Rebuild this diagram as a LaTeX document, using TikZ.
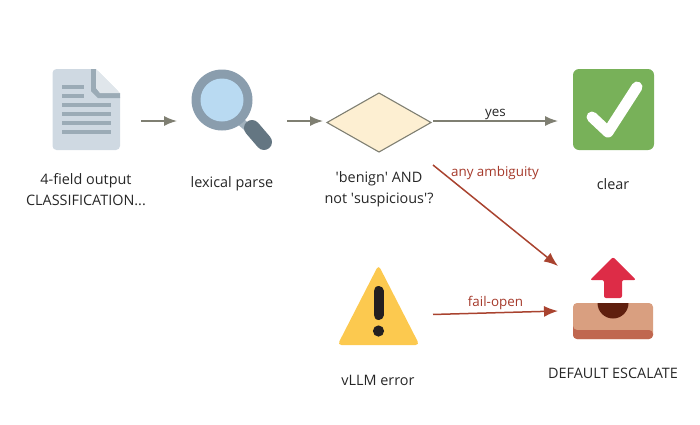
\documentclass[tikz,border=0pt]{standalone}
\usepackage{fontspec}
\setmainfont{Open Sans}
\usepackage{tikz}
\usetikzlibrary{arrows.meta,positioning,shapes.geometric}
\definecolor{flowgrey}{HTML}{7F7F72}
\definecolor{alertred}{HTML}{A9432F}
\definecolor{labelred}{HTML}{A5392A}
\definecolor{gatefill}{HTML}{FDEFD2}
\definecolor{sheet}{HTML}{CFD9E2}
\definecolor{sheetfold}{HTML}{E0E6EB}
\definecolor{sheetline}{HTML}{9BABB6}
\definecolor{lensring}{HTML}{8A9DAD}
\definecolor{lensglass}{HTML}{B9DAF2}
\definecolor{lenshandle}{HTML}{647682}
\definecolor{okgreen}{HTML}{78B159}
\definecolor{warnyellow}{HTML}{FCC94F}
\definecolor{warnblack}{HTML}{231F20}
\definecolor{trayskin}{HTML}{D99F80}
\definecolor{trayband}{HTML}{C0674F}
\definecolor{traydark}{HTML}{5F1F0E}
\definecolor{upred}{HTML}{DD2C47}
\begin{document}
\begin{tikzpicture}[
      x=1pt,y=-1pt,
      iconbox/.style={inner sep=0pt,outer sep=0pt,minimum width=110pt,minimum height=10pt},
      gatebox/.style={draw=flowgrey,fill=gatefill,diamond,aspect=1.76,inner sep=0pt,
                  outer sep=0pt,minimum width=104pt,minimum height=59pt,line width=1.1pt},
      lbl/.style={align=center,font=\fontsize{14.4}{21}\selectfont,text=black!85},
      edgelbl/.style={font=\fontsize{13.4}{14}\selectfont,inner sep=0pt},
      arr/.style={-{Latex[length=13pt,width=10pt]},line width=1.5pt,draw=flowgrey},
      alert/.style={-{Latex[length=14pt,width=11pt]},line width=1.5pt,draw=alertred}]
    \useasboundingbox (0,0) rectangle (700,424);

    \fill[sheet,rounded corners=4pt] (52.5,69) -- (96,69) -- (120,93) -- (120,150) -- (52.5,150) -- cycle;
    \fill[sheetline] (91,69) -- (96,69) -- (96,88) -- (100,93) -- (120,93) -- (120,98) -- (98,98) -- (91,91) -- cycle;
    \fill[sheetfold] (96,69) -- (120,93) -- (100,93) -- (96,88) -- cycle;
    \foreach \ypos/\xend in {87/84,96/84,105/111,114/111,123/111,132/111}
      \draw[sheetline,line width=4pt] (62,\ypos) -- (\xend,\ypos);

    \draw[lensring!80,line width=8pt] (240,121) -- (248,128);
    \draw[lenshandle,line width=16pt,line cap=round] (252,128) -- (264,142);
    \fill[lensring] (222,100) circle (30.5);
    \fill[lensglass] (222,100) circle (21.5);

    \fill[okgreen,rounded corners=6pt] (573,69) rectangle (654,150);
    \draw[white,line width=11pt,line cap=round,line join=round] (592,117) -- (608,132) -- (637,87);

    \fill[warnyellow,rounded corners=4pt] (378.5,265) -- (419.5,345) -- (337.5,345) -- cycle;
    \draw[warnblack,line width=10pt,line cap=round] (378.5,291) -- (378.5,315);
    \fill[warnblack] (378.5,331) circle (5.6);

    \fill[trayskin,rounded corners=4pt] (573,303) rectangle (653,339);
    \fill[trayband,rounded corners=4pt] (573,330) -- (653,330) [sharp corners] -- (653,334) [rounded corners=4pt] -- (653,339) -- (573,339) -- (573,330) -- cycle;
    \fill[traydark] (597.5,303) arc[start angle=180,end angle=360,radius=15.5,y radius=-15.5] -- cycle;
    \fill[upred,rounded corners=2pt] (613,257) -- (636,280) -- (622,280) -- (622,298) -- (604,298) -- (604,280) -- (590,280) -- cycle;

    \node[iconbox] (doc) at (86,121) {};
    \node[iconbox,right=36pt of doc] (lex) {};
    \node[gatebox,right=40pt of lex,yshift=-1.5pt] (gate) {};
    \node[iconbox,right=127pt of gate,yshift=1.5pt] (clear) {};
    \node[iconbox] (warn) at (378,316) {};
    \node[iconbox,minimum height=45pt] (esc) at (613,288.5) {};
    \coordinate (doubt) at (433,165);

    \node[lbl] (doctext) at (86,189.5) {4-field output\\CLASSIFICATION...};
    \node[lbl] (lextext) at (232,184) {lexical parse};
    \node[lbl] (gatetext) at (379,189.5) {\textquotesingle benign\textquotesingle{} AND\\not \textquotesingle suspicious\textquotesingle ?};
    \node[lbl] (cleartext) at (613,184) {clear};
    \node[lbl] (warntext) at (378,380) {vLLM error};
    \node[lbl] (esctext) at (613,373) {DEFAULT ESCALATE};

    \draw[arr] (doc) -- (lex);
    \draw[arr] (lex) -- ([xshift=-4pt,yshift=1.5pt]gate.west);
    \draw[arr] ([xshift=2pt,yshift=1.5pt]gate.east) -- node[edgelbl,above=1pt,text=black!85] (yes) {yes} (clear);
    \draw[alert] (doubt) -- (esc.north west);
    \draw[alert] (warn) -- node[edgelbl,above=2pt,text=labelred] (failopen) {fail-open} (esc.south west);
    \node[edgelbl,text=labelred] (ambiguity) at (495,173) {any ambiguity};
  \end{tikzpicture}
\end{document}
